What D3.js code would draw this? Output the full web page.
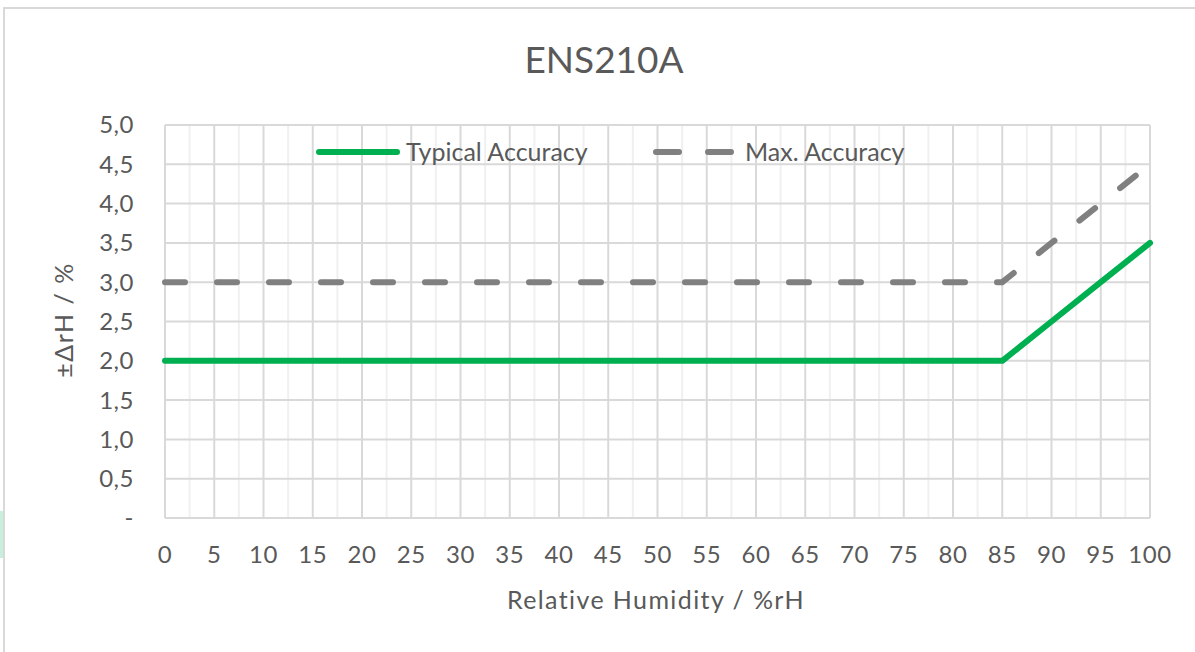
<!DOCTYPE html>
<meta charset="utf-8">
<script src="https://d3js.org/d3.v7.min.js"></script>
<body style="margin:0;background:#fff">
<svg width="1195" height="652"></svg>
<script>
    // data
    var humidity = [0, 5, 10, 15, 20, 25, 30, 35, 40, 45, 50, 55, 60, 65, 70, 75, 80, 85, 90, 95, 100];
    var typical  = [2, 2, 2, 2, 2, 2, 2, 2, 2, 2, 2, 2, 2, 2, 2, 2, 2, 2, 2.5, 3, 3.5];
    var maxAcc   = [3, 3, 3, 3, 3, 3, 3, 3, 3, 3, 3, 3, 3, 3, 3, 3, 3, 3, 3.5, 4, 4.5];
    var yTicks   = [0, 0.5, 1, 1.5, 2, 2.5, 3, 3.5, 4, 4.5, 5];
    var seriesNames = ["Typical Accuracy", "Max. Accuracy"];

    var font = "Lato, 'Open Sans', sans-serif", textCol = "#595959";
    var svg = d3.select("svg");
    var m = {left: 165, right: 1150, top: 125, bottom: 518};

    // chart frame
    svg.append("rect").attr("x", 0).attr("y", 511).attr("width", 3).attr("height", 47).attr("fill", "#c6efdd");
    svg.append("path").attr("d", "M4,660V8H1195").attr("fill", "none").attr("stroke", "#d9d9d9").attr("stroke-width", 2);

    var x = d3.scaleLinear().domain([0, 100]).range([m.left, m.right]);
    var y = d3.scaleLinear().domain([0, 5]).range([m.bottom, m.top]);

    // minor vertical gridlines (between categories)
    svg.append("g").selectAll("line").data(d3.range(2.5, 100, 5)).join("line")
        .attr("x1", x).attr("x2", x).attr("y1", m.top).attr("y2", m.bottom)
        .attr("stroke", "#f0f0f0").attr("stroke-width", 2);
    // major vertical gridlines
    svg.append("g").selectAll("line").data(humidity).join("line")
        .attr("x1", x).attr("x2", x).attr("y1", m.top).attr("y2", m.bottom)
        .attr("stroke", "#d9d9d9").attr("stroke-width", 2);
    // horizontal gridlines
    svg.append("g").selectAll("line").data(yTicks).join("line")
        .attr("x1", m.left).attr("x2", m.right).attr("y1", y).attr("y2", y)
        .attr("stroke", "#d9d9d9").attr("stroke-width", 2);

    // y tick labels
    var fmt = function(d){ return d === 0 ? "-" : d3.format(".1f")(d).replace(".", ","); };
    svg.append("g").selectAll("text").data(yTicks).join("text")
        .attr("x", 134).attr("y", y).attr("dy", "0.35em")
        .attr("text-anchor", "end")
        .style("font", "24px " + font).style("letter-spacing", "0.5px").attr("fill", textCol)
        .text(fmt);

    // x tick labels
    svg.append("g").selectAll("text").data(humidity).join("text")
        .attr("x", x).attr("y", 563)
        .attr("text-anchor", "middle")
        .style("font", "24px " + font).style("letter-spacing", "0.5px").attr("fill", textCol)
        .text(function(d){ return d; });

    // titles
    svg.append("text").attr("x", 604).attr("y", 73).attr("text-anchor", "middle")
        .style("font", "37px " + font).attr("fill", textCol).text("ENS210A");
    svg.append("text").attr("x", 656).attr("y", 609).attr("text-anchor", "middle")
        .style("font", "25px " + font).style("letter-spacing", "1.4px").attr("fill", textCol)
        .text("Relative Humidity / %rH");
    svg.append("text").attr("transform", "translate(73,320) rotate(-90)").attr("text-anchor", "middle")
        .style("font", "25px " + font).style("letter-spacing", "1.5px").attr("fill", textCol)
        .text("±ΔrH / %");

    // series lines
    var line = d3.line().x(function(d, i){ return x(humidity[i]); }).y(function(d){ return y(d); });
    svg.append("path").datum(maxAcc).attr("d", line)
        .attr("fill", "none").attr("stroke", "#808080").attr("stroke-width", 6)
        .attr("stroke-linecap", "round").attr("stroke-dasharray", "20 32");
    svg.append("path").datum(typical).attr("d", line)
        .attr("fill", "none").attr("stroke", "#00b050").attr("stroke-width", 6)
        .attr("stroke-linecap", "round").attr("stroke-linejoin", "round");

    // legend
    var lg = svg.append("g");
    lg.append("line").attr("x1", 319).attr("x2", 397).attr("y1", 152).attr("y2", 152)
        .attr("stroke", "#00b050").attr("stroke-width", 6).attr("stroke-linecap", "round");
    lg.append("text").attr("x", 406).attr("y", 152).attr("dy", "0.35em")
        .style("font", "25px " + font).attr("fill", textCol).text(seriesNames[0]);
    lg.append("line").attr("x1", 656).attr("x2", 732).attr("y1", 152).attr("y2", 152)
        .attr("stroke", "#808080").attr("stroke-width", 6).attr("stroke-linecap", "round")
        .attr("stroke-dasharray", "23 29");
    lg.append("text").attr("x", 745).attr("y", 152).attr("dy", "0.35em")
        .style("font", "25px " + font).attr("fill", textCol).text(seriesNames[1]);
</script>
</body>
